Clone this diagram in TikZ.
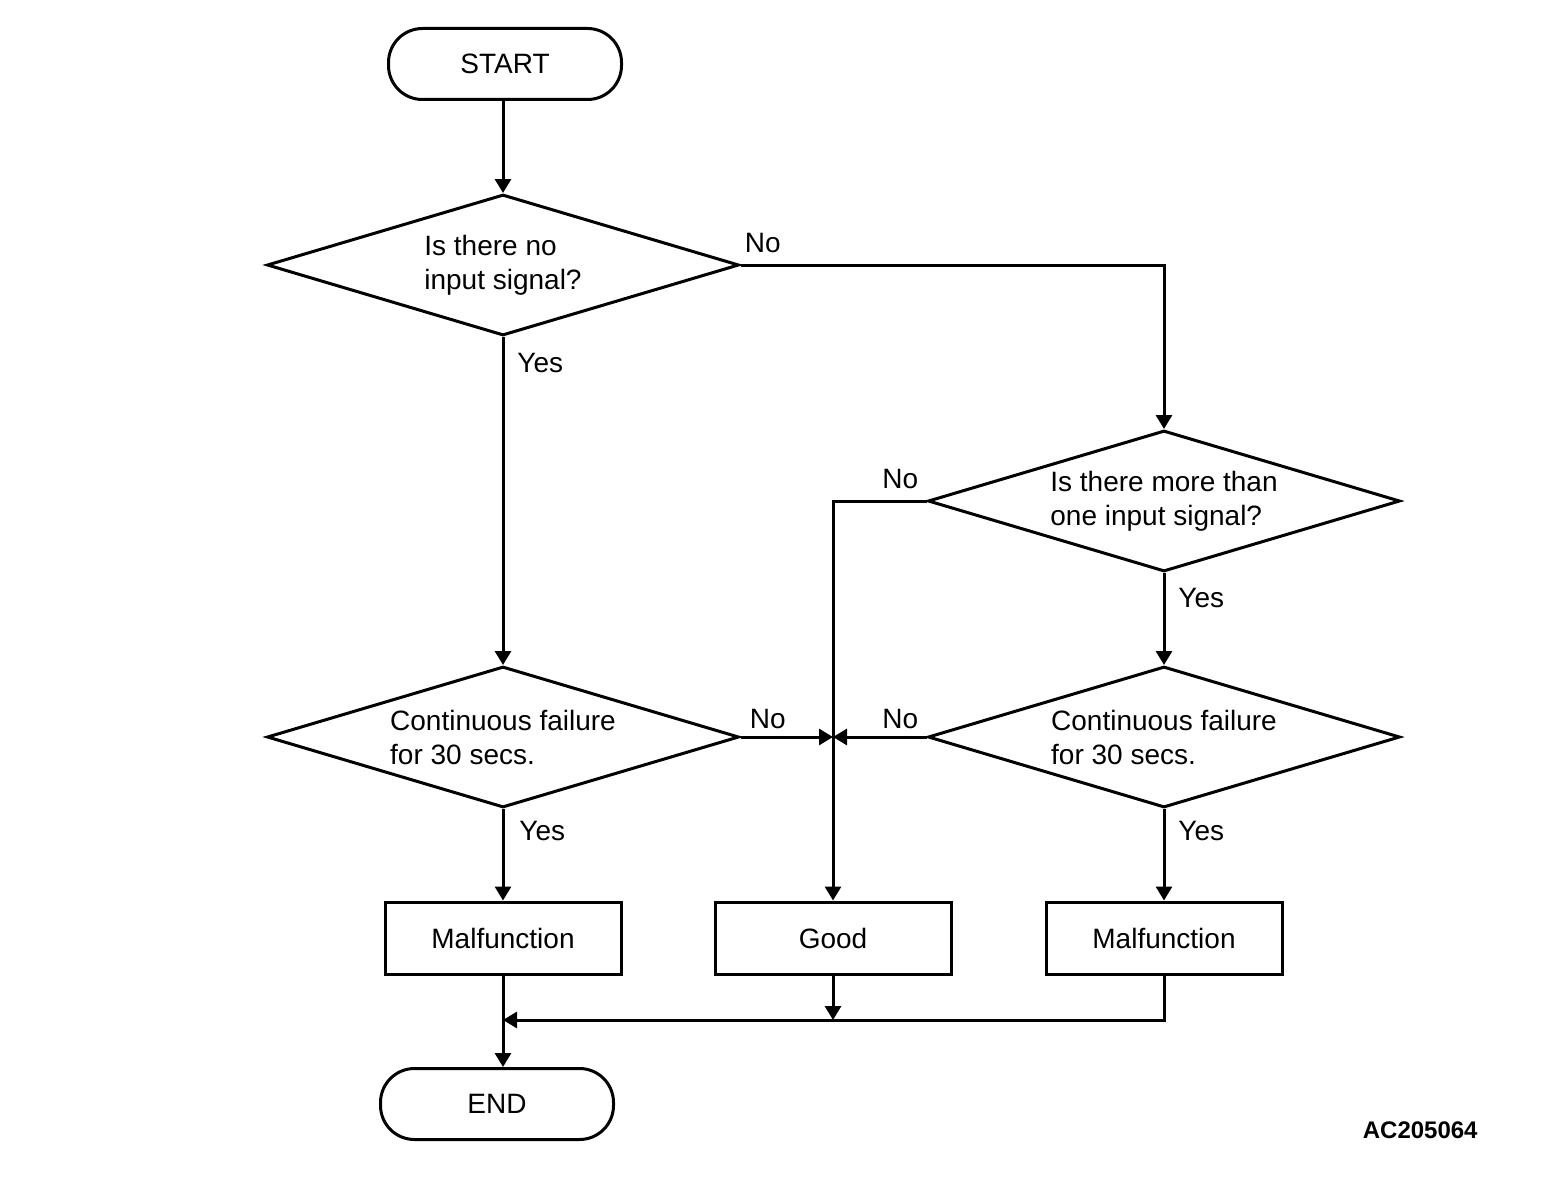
\documentclass[tikz,border=0pt]{standalone}
\usepackage{fontspec}
\setsansfont{Liberation Sans}
\usetikzlibrary{shapes.geometric, arrows.meta}

\begin{document}
\begin{tikzpicture}[x=0.5pt, y=-0.5pt, font=\sffamily\fontsize{14}{17}\selectfont,
		line/.style={line width=1.5pt},
		arr/.style={line, -{Triangle[length=7pt, width=8pt]}},
		term/.style={draw, line, rounded corners=17pt, minimum width=116.5pt, minimum height=35.5pt},
		decision/.style={draw, line, diamond, aspect=3.3, inner sep=0pt, minimum width=236pt, minimum height=70.5pt, align=left},
		result/.style={draw, line, minimum width=118pt, minimum height=36pt},
		lbl/.style={inner sep=0pt}]
		\useasboundingbox (0,0) rectangle (1568,1188);
		
		\node[term] (start) at (505,64) {START};
		\node[decision] (noinput) at (503,265) {Is there no\\input signal?};
		\node[decision] (moreinput) at (1164,501) {Is there more than\\one input signal?};
		\node[decision] (fail1) at (503,737) {Continuous failure\\for 30 secs.};
		\node[decision] (fail2) at (1164,737) {Continuous failure\\for 30 secs.};
		
		\node[result] (malf1) at (503,938) {Malfunction};
		\node[result] (good) at (833,938) {Good};
		\node[result] (malf2) at (1164,938) {Malfunction};
		\node[term] (end) at (497,1104) {END};
		
		\coordinate (meet) at (833,737);
		\coordinate (merge) at (503,1020);
		
		% connectors
		\draw[arr] (noinput.north |- start.south) -- (noinput.north);
		\draw[arr] (noinput.east) -| (moreinput.north);
		\draw[arr] (noinput.south) -- (fail1.north);
		\draw[arr] (moreinput.west) -| (good.north);
		\draw[arr] (moreinput.south) -- (fail2.north);
		\draw[arr] (fail1.east) -- (meet);
		\draw[arr] (fail2.west) -- (meet);
		\draw[arr] (fail1.south) -- (malf1.north);
		\draw[arr] (fail2.south) -- (malf2.north);
		\draw[arr] (malf1.south) -- (malf1.south |- end.north);
		\draw[arr] (good.south) -- (good.south |- merge);
		\draw[arr] (malf2.south) |- (merge);
		
		% branch labels
		\node[lbl, anchor=base west] at ([shift={(4,-13)}]noinput.east) {No};
		\node[lbl, anchor=base west] at ([shift={(14,35)}]noinput.south) {Yes};
		\node[lbl, anchor=base east] at ([shift={(-8,-13)}]moreinput.west) {No};
		\node[lbl, anchor=base west] at ([shift={(14,34)}]moreinput.south) {Yes};
		\node[lbl, anchor=base west] at ([shift={(9,-9)}]fail1.east) {No};
		\node[lbl, anchor=base east] at ([shift={(-8,-9)}]fail2.west) {No};
		\node[lbl, anchor=base west] at ([shift={(16,31)}]fail1.south) {Yes};
		\node[lbl, anchor=base west] at ([shift={(14,31)}]fail2.south) {Yes};
		
		\node[anchor=base east, inner sep=0pt, font=\sffamily\bfseries\fontsize{12}{14}\selectfont] (code) at (1478,1138) {AC205064};
	\end{tikzpicture}
\end{document}
